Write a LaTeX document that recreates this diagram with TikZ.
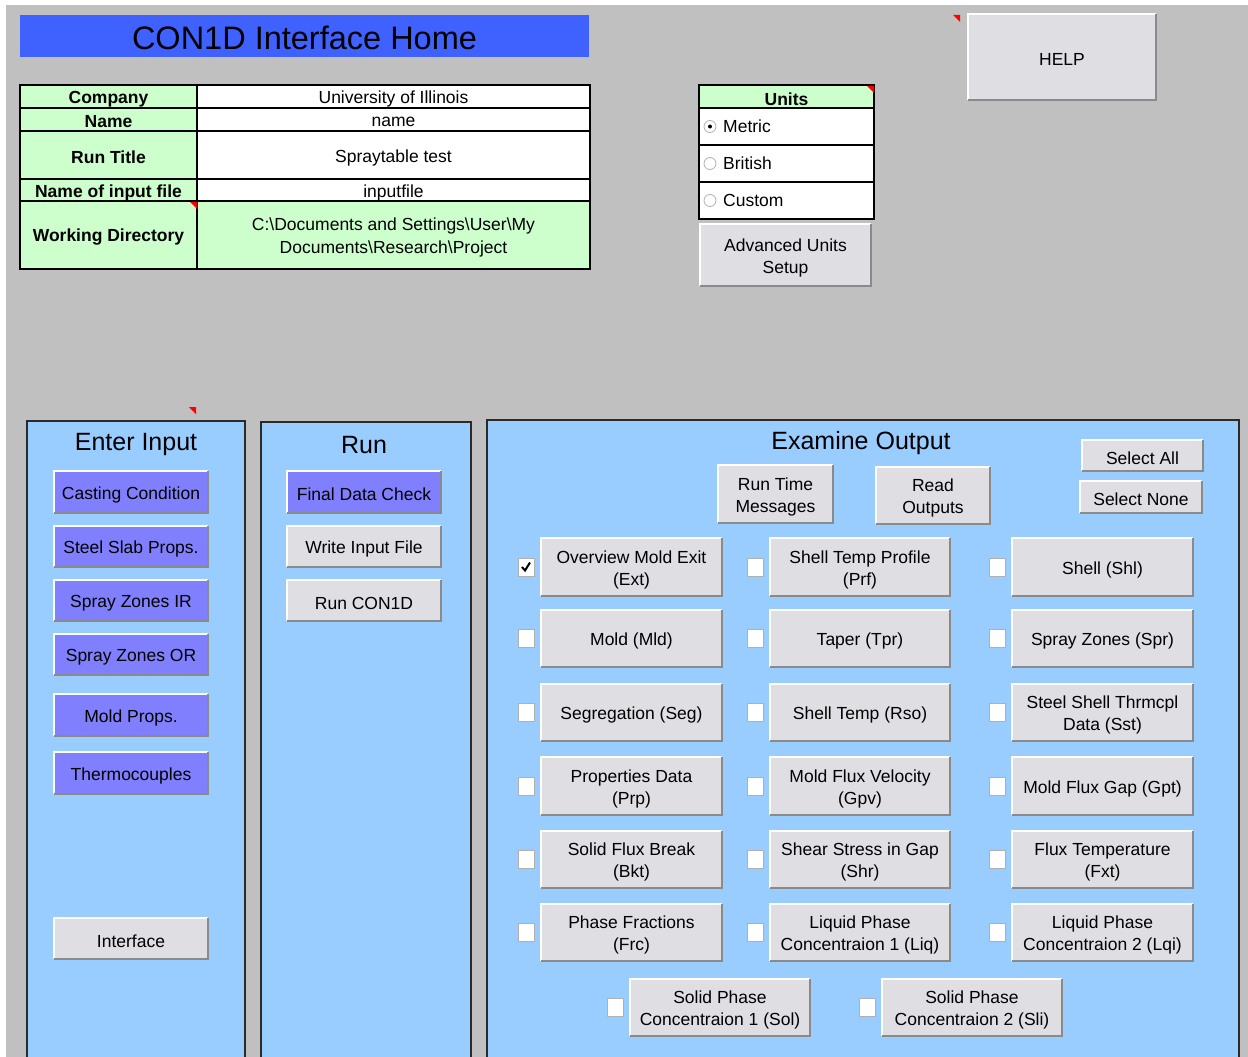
\documentclass[tikz,border=0pt]{standalone}
\usepackage{fontspec}
\setmainfont{Liberation Sans}
\definecolor{bg}{HTML}{C0C0C0}
\definecolor{titleblue}{HTML}{3F62FF}
\definecolor{cellgreen}{HTML}{CCFFCC}
\definecolor{panelblue}{HTML}{99CCFF}
\definecolor{btngray}{HTML}{DFDFE3}
\definecolor{btnpurple}{HTML}{8080FF}
\definecolor{btnshadow}{HTML}{8A8A8A}
\definecolor{chkedge}{HTML}{B0B0B0}
\definecolor{paneledge}{HTML}{2A2A2A}
\newcommand{\fbtn}{\fontsize{17.5}{22}\selectfont}
\newcommand{\fcell}{\fontsize{17.5}{23}\selectfont}
\newcommand{\fcellb}{\fontsize{17.5}{23}\selectfont\bfseries}
\newcommand{\fpanel}{\fontsize{25}{30}\selectfont}
\newcommand{\mybtn}[7]{%
 \node[btnbox, fill=#6, minimum width={(#4-#2)*1pt}, minimum height={(#5-#3)*1pt}] (#1) at ({(#2+#4)/2},{(#3+#5)/2}) {};
 \node[btntext] (#1-t) at ([yshift=-2.5pt]#1.center) {#7};
 \draw[white, line width=2pt] (#1.south west) -- (#1.north west) -- (#1.north east);
 \draw[btnshadow, line width=2.5pt] (#1.north east) -- (#1.south east) -- (#1.south west);
}
\newcommand{\mycell}[7]{%
 \node[cellbox, fill=#6, minimum width={(#4-#2)*1pt}, minimum height={(#5-#3)*1pt}] (#1) at ({(#2+#4)/2},{(#3+#5)/2}) {};
 \node[celltext] (#1-t) at ([yshift=-2.5pt]#1.center) {#7};
}
\newcommand{\redmark}[2]{\fill[red] (#1-7,#2) -- (#1,#2) -- (#1,#2+7) -- cycle;}
\tikzset{
 btnbox/.style={inner sep=0pt},
 btntext/.style={inner sep=0pt, align=center, font=\fbtn},
 cellbox/.style={draw=black, line width=1.3pt, inner sep=0pt},
 celltext/.style={inner sep=0pt, align=center, font=\fcell},
 chkbox/.style={draw=chkedge, fill=white, line width=0.8pt, minimum width=16pt, minimum height=18pt, inner sep=0pt},
 radiobtn/.style={circle, draw=chkedge, fill=white, line width=0.8pt, minimum size=12pt, inner sep=0pt},
 panel/.style={fill=panelblue},
 paneltitle/.style={font=\fpanel, inner sep=0pt},
}
\begin{document}
\begin{tikzpicture}[x=1pt, y=-1pt]
\useasboundingbox (0,0) rectangle (1248,1057);
\fill[white] (0,0) rectangle (1248,1057);
\fill[bg] (6,5) rectangle (1248,1057);

% title
\node[fill=titleblue, minimum width=569pt, minimum height=42pt, inner sep=0pt] (title) at (304.5,36) {};
\node[inner sep=0pt, font=\fontsize{32.5}{36}\selectfont] (title-t) at ([yshift=-1.5pt]title.center) {CON1D Interface Home};

% info table
\mycell{lc1}{20}{85}{197}{108}{cellgreen}{\fcellb Company}
\mycell{rc1}{197}{85}{590}{108}{white}{University of Illinois}
\mycell{lc2}{20}{108}{197}{131}{cellgreen}{\fcellb Name}
\mycell{rc2}{197}{108}{590}{131}{white}{name}
\mycell{lc3}{20}{131}{197}{179}{cellgreen}{\fcellb Run Title}
\mycell{rc3}{197}{131}{590}{179}{white}{Spraytable test}
\mycell{lc4}{20}{179}{197}{201}{cellgreen}{\fcellb Name of input file}
\mycell{rc4}{197}{179}{590}{201}{white}{inputfile}
\mycell{lc5}{20}{201}{197}{269}{cellgreen}{\fcellb Working Directory}
\mycell{rc5}{197}{201}{590}{269}{cellgreen}{C:\textbackslash Documents and Settings\textbackslash User\textbackslash My\\Documents\textbackslash Research\textbackslash Project}
\redmark{197}{202}

% units
\mycell{uh}{699}{85}{874}{108}{cellgreen}{\fcellb Units}
\mycell{u1}{699}{108}{874}{145}{white}{}
\mycell{u2}{699}{145}{874}{182}{white}{}
\mycell{u3}{699}{182}{874}{219}{white}{}
\redmark{874}{86}
\node[radiobtn] (r1) at (710,126.5) {};
\node[radiobtn] (r2) at (710,163.5) {};
\node[radiobtn] (r3) at (710,200.5) {};
\fill (r1.center) circle (2pt);
\node[anchor=west, font=\fcell, inner sep=0pt] (t1) at (723,126.5) {Metric};
\node[anchor=west, font=\fcell, inner sep=0pt] (t2) at (723,163.5) {British};
\node[anchor=west, font=\fcell, inner sep=0pt] (t3) at (723,200.5) {Custom};
\mybtn{adv}{700}{224}{871}{286}{btngray}{Advanced Units\\Setup}

% help
\mybtn{help}{968}{14}{1156}{100}{btngray}{HELP}
\redmark{960}{15}

% panels
\fill[panel] (27,421) rectangle (245,1057);
\draw[paneledge, line width=1.5pt] (27,1057) -- (27,421) -- (245,421) -- (245,1057);
\fill[panel] (261,422) rectangle (471,1057);
\draw[paneledge, line width=1.5pt] (261,1057) -- (261,422) -- (471,422) -- (471,1057);
\fill[panel] (487,420) rectangle (1239,1057);
\draw[paneledge, line width=1.5pt] (487,1057) -- (487,420) -- (1239,420) -- (1239,1057);
\redmark{196}{407}
\node[paneltitle] (pt1) at (136,444) {Enter Input};
\node[paneltitle] (pt2) at (364,445) {Run};
\node[paneltitle] (pt3) at (861,443) {Examine Output};

% enter input buttons
\mybtn{b1}{54}{471}{208}{513}{btnpurple}{Casting Condition}
\mybtn{b2}{54}{526}{208}{567}{btnpurple}{Steel Slab Props.}
\mybtn{b3}{54}{580}{208}{621}{btnpurple}{Spray Zones IR}
\mybtn{b4}{54}{634}{208}{675}{btnpurple}{Spray Zones OR}
\mybtn{b5}{54}{694}{208}{736}{btnpurple}{Mold Props.}
\mybtn{b6}{54}{752}{208}{794}{btnpurple}{Thermocouples}
\mybtn{b7}{54}{918}{208}{959}{btngray}{Interface}

% run buttons
\mybtn{c1}{287}{471}{441}{513}{btnpurple}{Final Data Check}
\mybtn{c2}{287}{526}{441}{567}{btngray}{Write Input File}
\mybtn{c3}{287}{580}{441}{621}{btngray}{Run CON1D}

% examine output top buttons
\mybtn{rtm}{718}{465}{833}{523}{btngray}{Run Time\\Messages}
\mybtn{ro}{876}{467}{990}{524}{btngray}{Read\\Outputs}
\mybtn{sa}{1082}{440}{1203}{471}{btngray}{Select All}
\mybtn{sn}{1080}{481}{1202}{513}{btngray}{Select None}

% grid
\mybtn{o11}{541}{538}{722}{596}{btngray}{Overview Mold Exit\\(Ext)}
\mybtn{o12}{770}{538}{950}{596}{btngray}{Shell Temp Profile\\(Prf)}
\mybtn{o13}{1012}{538}{1193}{596}{btngray}{Shell (Shl)}
\mybtn{o21}{541}{610}{722}{667}{btngray}{Mold (Mld)}
\mybtn{o22}{770}{610}{950}{667}{btngray}{Taper (Tpr)}
\mybtn{o23}{1012}{610}{1193}{667}{btngray}{Spray Zones (Spr)}
\mybtn{o31}{541}{684}{722}{741}{btngray}{Segregation (Seg)}
\mybtn{o32}{770}{684}{950}{741}{btngray}{Shell Temp (Rso)}
\mybtn{o33}{1012}{684}{1193}{741}{btngray}{Steel Shell Thrmcpl\\Data (Sst)}
\mybtn{o41}{541}{757}{722}{815}{btngray}{Properties Data\\(Prp)}
\mybtn{o42}{770}{757}{950}{815}{btngray}{Mold Flux Velocity\\(Gpv)}
\mybtn{o43}{1012}{757}{1193}{815}{btngray}{Mold Flux Gap (Gpt)}
\mybtn{o51}{541}{831}{722}{888}{btngray}{Solid Flux Break\\(Bkt)}
\mybtn{o52}{770}{831}{950}{888}{btngray}{Shear Stress in Gap\\(Shr)}
\mybtn{o53}{1012}{831}{1193}{888}{btngray}{Flux Temperature\\(Fxt)}
\mybtn{o61}{541}{904}{722}{961}{btngray}{Phase Fractions\\(Frc)}
\mybtn{o62}{770}{904}{950}{961}{btngray}{Liquid Phase\\Concentraion 1 (Liq)}
\mybtn{o63}{1012}{904}{1193}{961}{btngray}{Liquid Phase\\Concentraion 2 (Lqi)}
\mybtn{o71}{630}{979}{810}{1036}{btngray}{Solid Phase\\Concentraion 1 (Sol)}
\mybtn{o72}{882}{979}{1062}{1036}{btngray}{Solid Phase\\Concentraion 2 (Sli)}

% checkboxes
\foreach \r/\y in {1/567,2/638.5,3/712.5,4/786,5/859.5,6/932.5}{
 \node[chkbox] (k\r a) at (526,\y) {};
 \node[chkbox] (k\r b) at (755,\y) {};
 \node[chkbox] (k\r c) at (997,\y) {};
}
\node[chkbox] (k7a) at (615,1007.5) {};
\node[chkbox] (k7b) at (867,1007.5) {};
\draw[line width=2pt] ([xshift=-4pt,yshift=0pt]k1a.center) -- ([xshift=-1pt,yshift=-3.5pt]k1a.center) -- ([xshift=4pt,yshift=4.5pt]k1a.center);
\end{tikzpicture}
\end{document}
